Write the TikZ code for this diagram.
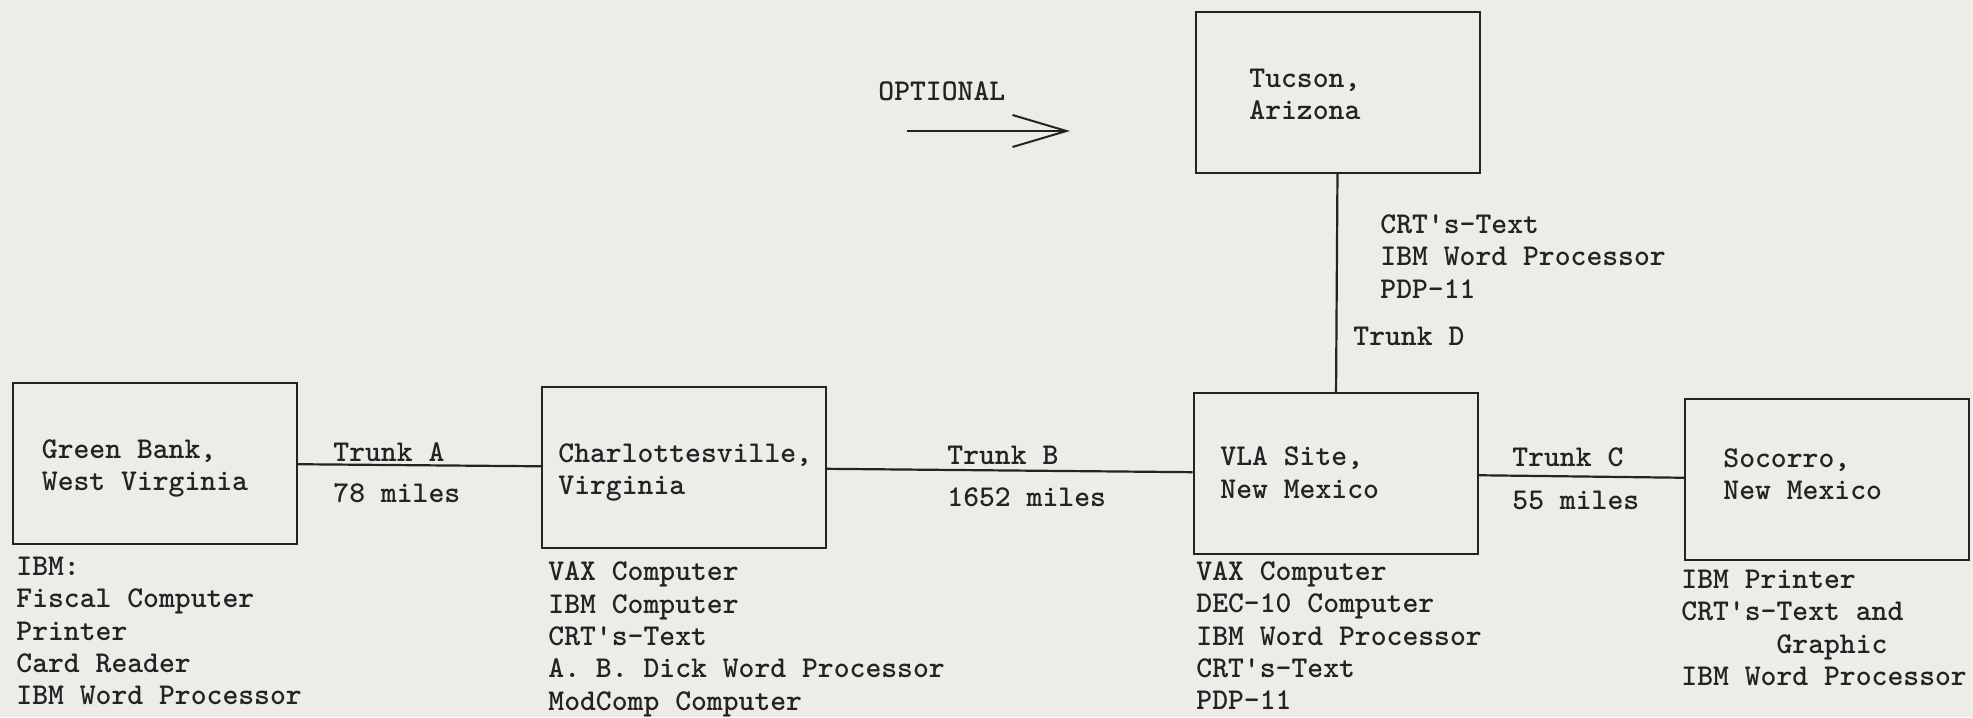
\documentclass[tikz,border=0pt]{standalone}
\usetikzlibrary{arrows.meta}
\definecolor{paper}{RGB}{236,236,233}
\definecolor{ink}{RGB}{35,35,35}
\newcommand{\apos}{\textquotesingle}
\tikzset{
  site/.style={draw=ink,line width=1pt,minimum width=142pt,minimum height=80.5pt,inner sep=0pt},
  txt/.style={ink,font=\ttfamily\bfseries\fontsize{15.1}{16.2}\selectfont,align=left,inner sep=0pt,anchor=north west},
  trunk/.style={draw=ink,line width=1.1pt}
}
\begin{document}
\begin{tikzpicture}[x=0.5pt,y=-0.5pt]
\fill[paper] (0,0) rectangle (1973,717);
\useasboundingbox (0,0) rectangle (1973,717);
% sites
\node[site] (gb) at (155,463) {};
\node[site] (ch) at (684,467.5) {};
\node[site] (vla) at (1335.5,473.5) {};
\node[site] (soc) at (1827,479.5) {};
\node[site] (tuc) at (1338,92.5) {};
\node[txt] (gbname) at (41.5,439.4) {Green Bank,\\West Virginia};
\node[txt] (chname) at (558,443.4) {Charlottesville,\\Virginia};
\node[txt] (vlaname) at (1220,446.4) {VLA Site,\\New Mexico};
\node[txt] (socname) at (1723,448.4) {Socorro,\\New Mexico};
\node[txt] (tucname) at (1249,68.4) {Tucson,\\Arizona};
% trunks
\draw[trunk] (gb) -- (ch);
\draw[trunk] (ch) -- (vla);
\draw[trunk] (vla) -- (soc);
\draw[trunk] (tuc) -- (vla);
\node[txt] (ta) at (333,442.4) {Trunk A};
\node[txt] (tamiles) at (333,483.4) {78 miles};
\node[txt] (tb) at (947,445.4) {Trunk B};
\node[txt] (tbmiles) at (947,487.4) {1652 miles};
\node[txt] (tc) at (1512,447.4) {Trunk C};
\node[txt] (tcmiles) at (1512,490.4) {55 miles};
\node[txt] (td) at (1353,326.4) {Trunk D};
% equipment
\node[txt] (gblist) at (16,556.4) {IBM:\\Fiscal Computer\\Printer\\Card Reader\\IBM Word Processor};
\node[txt] (chlist) at (548,561.4) {VAX Computer\\IBM Computer\\CRT\apos s-Text\\A. B. Dick Word Processor\\ModComp Computer};
\node[txt] (vlalist) at (1196,561) {VAX Computer\\DEC-10 Computer\\IBM Word Processor\\CRT\apos s-Text\\PDP-11};
\node[txt] (soclist) at (1681,569.4) {IBM Printer\\CRT\apos s-Text and\\\hspace*{3.15em}Graphic\\IBM Word Processor};
\node[txt] (tuclist) at (1380,214.4) {CRT\apos s-Text\\IBM Word Processor\\PDP-11};
% optional link
\node[txt] (opt) at (878,81.4) {OPTIONAL};
\coordinate (optfrom) at (907,131);
\coordinate (optto) at (1070,131);
\draw[ink,line width=1.2pt,-{Straight Barb[length=27pt,width=16pt,line width=1pt]}] (optfrom) -- (optto);
\end{tikzpicture}
\end{document}
